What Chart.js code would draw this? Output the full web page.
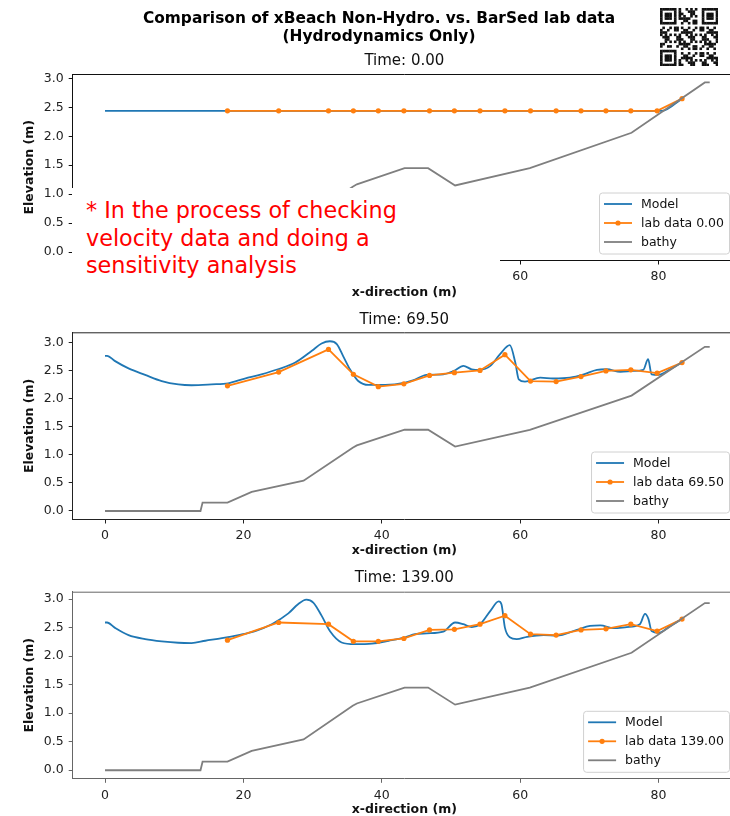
<!DOCTYPE html>
<html><head><meta charset="utf-8">
<script src="https://cdn.jsdelivr.net/npm/chart.js@4.4.0/dist/chart.umd.min.js"></script>
<style>
html,body{margin:0;padding:0;background:#fff;overflow:hidden;width:730px;height:816px;}
#wrap{position:relative;width:730px;height:816px;overflow:hidden;background:#fff;}
canvas.c{position:absolute;left:0;}
#maintitle{position:absolute;left:0;width:758px;top:9px;text-align:center;font:bold 15.4px "DejaVu Sans";line-height:18px;color:#000;}
#qr{position:absolute;left:660px;top:8px;}
#mask{position:absolute;left:72px;top:188px;width:428px;height:97px;background:#fff;}
#note{position:absolute;left:86px;top:197px;font:22.3px "DejaVu Sans";line-height:27.5px;color:#ff0000;white-space:nowrap;}
</style></head>
<body>
<div id="wrap">
  <canvas class="c" id="c1"></canvas>
  <canvas class="c" id="c2"></canvas>
  <canvas class="c" id="c3"></canvas>
  <div id="maintitle">Comparison of xBeach Non-Hydro. vs. BarSed lab data<br>(Hydrodynamics Only)</div>
  <canvas id="qr" width="58" height="58"></canvas>
  <div id="mask"></div>
  <div id="note">* In the process of checking<br>velocity data and doing a<br>sensitivity analysis</div>
</div>
<script>
// ---------------- data ----------------
const bathyX = [0, 13.8, 14.1, 17.7, 21.2, 28.7, 35.8, 36.4, 43.3, 46.7, 50.6, 61.4, 76.1, 86.7, 87.4];
const bathyY = [0, 0, 0.15, 0.15, 0.34, 0.54, 1.13, 1.17, 1.45, 1.45, 1.15, 1.45, 2.06, 2.93, 2.93];

const labX = [17.7, 25.1, 32.3, 35.9, 39.5, 43.2, 46.9, 50.5, 54.2, 57.8, 61.5, 65.2, 68.8, 72.4, 76.0, 79.8, 83.4];
const lab0 = [2.44, 2.44, 2.44, 2.44, 2.44, 2.44, 2.44, 2.44, 2.44, 2.44, 2.44, 2.44, 2.44, 2.44, 2.44, 2.44, 2.65];
const lab69 = [2.235, 2.48, 2.885, 2.44, 2.22, 2.27, 2.42, 2.47, 2.51, 2.79, 2.32, 2.31, 2.40, 2.50, 2.52, 2.46, 2.65];
const lab139 = [2.28, 2.59, 2.56, 2.26, 2.26, 2.31, 2.46, 2.47, 2.56, 2.71, 2.385, 2.37, 2.46, 2.48, 2.56, 2.44, 2.65];

const model0X = [0, 80.5, 83.4];
const model0Y = [2.44, 2.44, 2.65];

const model69X = [0, 0.3, 1.4, 3.4, 5.8, 8.2, 10.6, 12.5, 15.4, 17.8, 20.2, 22.6, 25.0, 27.5, 29.9, 31.3, 32.5, 33.5, 34.4, 35.4, 36.6, 38.1, 40.5, 43.4, 44.5, 46.5, 48.9, 50.4, 51.8, 53.0, 54.2, 55.7, 57.1, 58.5, 59.3, 59.8, 60.7, 62.9, 64.8, 67.2, 69.2, 71.1, 72.5, 74.5, 76.4, 77.8, 78.5, 79.0, 80.0, 81.7, 83.4];
const model69Y = [2.77, 2.77, 2.68, 2.545, 2.43, 2.32, 2.26, 2.245, 2.26, 2.28, 2.365, 2.44, 2.53, 2.65, 2.86, 2.99, 3.03, 2.98, 2.77, 2.53, 2.32, 2.25, 2.25, 2.29, 2.33, 2.43, 2.44, 2.50, 2.59, 2.53, 2.52, 2.59, 2.80, 2.96, 2.65, 2.35, 2.31, 2.38, 2.365, 2.38, 2.44, 2.52, 2.53, 2.485, 2.50, 2.52, 2.71, 2.44, 2.43, 2.53, 2.65];

const model139X = [0, 0.3, 1.4, 3.4, 5.8, 8.2, 10.6, 12.5, 14.5, 16.9, 19.3, 21.7, 24.1, 26.5, 27.9, 29.1, 30.1, 31.3, 32.5, 34.2, 36.1, 38.6, 41.0, 43.4, 44.8, 46.5, 48.9, 50.6, 51.8, 53.0, 54.2, 55.7, 56.9, 57.3, 57.8, 58.5, 59.5, 61.0, 63.4, 65.3, 68.2, 70.1, 71.6, 73.5, 75.4, 77.3, 78.05, 78.55, 79.0, 80.0, 81.7, 83.4];
const model139Y = [2.59, 2.59, 2.50, 2.37, 2.30, 2.26, 2.235, 2.23, 2.27, 2.315, 2.37, 2.44, 2.56, 2.75, 2.91, 2.99, 2.94, 2.71, 2.44, 2.24, 2.21, 2.22, 2.27, 2.33, 2.385, 2.40, 2.43, 2.59, 2.56, 2.51, 2.56, 2.795, 2.96, 2.91, 2.50, 2.33, 2.30, 2.34, 2.37, 2.36, 2.46, 2.53, 2.54, 2.49, 2.51, 2.56, 2.74, 2.65, 2.44, 2.41, 2.53, 2.65];

const times = ['0.00', '69.50', '139.00'];
const xTicksStep = 20;
const yTicksStep = 0.5;

// ---------------- helpers ----------------
const pts = (xs, ys) => xs.map((x, i) => ({x, y: ys[i]}));
Chart.defaults.font.family = '"DejaVu Sans"';
Chart.defaults.color = '#222';

const FONT_TICK = 12.5;
const FONT_TITLE = 15;
const CANVAS_W = 746;
const AREA_LEFT = 72.7, AREA_RIGHT = 736;

const frame = {
  id: 'frame',
  afterDatasetsDraw(chart, args, opts) {
    const {ctx, chartArea: a} = chart;
    ctx.save();
    ctx.strokeStyle = opts.color; ctx.lineWidth = 1;
    ctx.beginPath();
    ctx.moveTo(a.left, a.top + 0.5); ctx.lineTo(a.right, a.top + 0.5);
    ctx.moveTo(a.right - 0.5, a.top); ctx.lineTo(a.right - 0.5, a.bottom);
    ctx.stroke();
    ctx.restore();
  }
};

const insideLegend = {
  id: 'insideLegend',
  afterDraw(chart) {
    const {ctx, chartArea: a} = chart;
    const items = chart.data.datasets.slice().sort((p, q) => p.legendIndex - q.legendIndex);
    ctx.save();
    ctx.font = FONT_TICK + 'px "DejaVu Sans"';
    const maxW = Math.max(...items.map(d => ctx.measureText(d.label).width));
    const pad = 5, handle = 28, gap = 9, rowH = 19, h = 61;
    const w = pad + handle + gap + maxW + pad;
    const right = a.right - 7, bottom = a.bottom - 7;
    const left = right - w, top = bottom - h;
    ctx.beginPath();
    if (ctx.roundRect) ctx.roundRect(left + 0.5, top + 0.5, w, h, 3); else ctx.rect(left + 0.5, top + 0.5, w, h);
    ctx.fillStyle = 'rgba(255,255,255,0.85)';
    ctx.fill();
    ctx.strokeStyle = '#d0d0d0'; ctx.lineWidth = 1;
    ctx.stroke();
    items.forEach((d, i) => {
      const y = top + 11.5 + i * rowH;
      ctx.strokeStyle = d.borderColor; ctx.lineWidth = d.borderWidth;
      ctx.beginPath(); ctx.moveTo(left + pad, y); ctx.lineTo(left + pad + handle, y); ctx.stroke();
      if (d.pointRadius > 0) {
        ctx.fillStyle = d.borderColor;
        ctx.beginPath(); ctx.arc(left + pad + handle / 2, y, d.pointRadius, 0, Math.PI * 2); ctx.fill();
      }
      ctx.fillStyle = '#111'; ctx.textBaseline = 'middle'; ctx.textAlign = 'left';
      ctx.fillText(d.label, left + pad + handle + gap, y + 0.5);
    });
    ctx.restore();
  }
};

const panels = [
  {id: 'c1', top: 40, titleY: 61, areaTop: 74, areaBottom: 260, xTitleY: 292, ymin: -0.146, ymax: 3.076,
   mx: model0X, my: model0Y, lab: lab0, t: times[0], spine: '#111'},
  {id: 'c2', top: 300, titleY: 320, areaTop: 332.3, areaBottom: 519, xTitleY: 550, ymin: -0.152, ymax: 3.19,
   mx: model69X, my: model69Y, lab: lab69, t: times[1], spine: '#222'},
  {id: 'c3', top: 558, titleY: 578.3, areaTop: 591.7, areaBottom: 778.3, xTitleY: 809, ymin: -0.15, ymax: 3.13,
   mx: model139X, my: model139Y, lab: lab139, t: times[2], spine: '#666'},
];

panels.forEach(p => {
  const xAxisH = p.xTitleY - p.areaBottom + 7.5;
  const H = Math.ceil(p.areaBottom + xAxisH - p.top);
  const cv = document.getElementById(p.id);
  cv.width = CANVAS_W; cv.height = H;
  cv.style.top = p.top + 'px';
  const titleLH = FONT_TITLE * 1.2;
  const tPadTop = p.titleY - p.top - titleLH / 2;
  const tPadBot = p.areaTop - p.top - tPadTop - titleLH;
  new Chart(cv, {
    type: 'line',
    data: {
      datasets: [
        {label: 'Model', data: pts(p.mx, p.my), borderColor: '#1f77b4', backgroundColor: '#1f77b4',
         borderWidth: 1.8, pointRadius: 0, cubicInterpolationMode: 'monotone', order: 3, legendIndex: 0},
        {label: 'lab data ' + p.t, data: pts(labX, p.lab), borderColor: '#ff7f0e', backgroundColor: '#ff7f0e',
         borderWidth: 1.8, pointRadius: 2.6, pointBorderWidth: 0, pointBackgroundColor: '#ff7f0e', tension: 0, order: 2, legendIndex: 1},
        {label: 'bathy', data: pts(bathyX, bathyY), borderColor: '#7f7f7f', backgroundColor: '#7f7f7f',
         borderWidth: 1.8, pointRadius: 0, tension: 0, order: 1, legendIndex: 2},
      ]
    },
    options: {
      responsive: false, animation: false, devicePixelRatio: 1,
      layout: {padding: {left: 0, right: CANVAS_W - AREA_RIGHT, top: 0, bottom: 0}},
      plugins: {
        legend: {display: false}, tooltip: {enabled: false},
        title: {display: true, text: 'Time: ' + p.t, fullSize: false, color: '#111',
                font: {size: FONT_TITLE, weight: 'normal'}, padding: {top: tPadTop, bottom: tPadBot}},
        frame: {color: p.spine}
      },
      scales: {
        x: {type: 'linear', min: -4.67, max: 91.2,
            afterFit: s => { s.height = xAxisH; },
            ticks: {stepSize: xTicksStep, includeBounds: false, maxRotation: 0, autoSkip: false, padding: 5,
                    font: {size: FONT_TICK}, color: '#222', callback: v => String(v)},
            grid: {drawOnChartArea: false, drawTicks: true, tickLength: 4, tickColor: p.spine},
            border: {display: true, color: p.spine, width: 1},
            title: {display: true, text: 'x-direction (m)', color: '#111', font: {size: 12.5, weight: 'bold'}, padding: {top: 0, bottom: 0}}},
        y: {type: 'linear', min: p.ymin, max: p.ymax,
            afterFit: s => { s.width = AREA_LEFT; },
            ticks: {stepSize: yTicksStep, includeBounds: false, padding: 5, font: {size: FONT_TICK}, color: '#222',
                    callback: v => Number(v).toFixed(1)},
            grid: {drawOnChartArea: false, drawTicks: true, tickLength: 4, tickColor: p.spine},
            border: {display: true, color: p.spine, width: 1},
            title: {display: true, text: 'Elevation (m)', color: '#111', font: {size: 12.5, weight: 'bold'}, padding: {top: 22.5, bottom: 0}}}
      }
    },
    plugins: [frame, insideLegend]
  });
});

// ---------------- QR-like decoration ----------------
(function () {
  const c = document.getElementById('qr').getContext('2d');
  const n = 25, m = 58 / n;
  c.fillStyle = '#fff'; c.fillRect(0, 0, 58, 58);
  c.fillStyle = '#111';
  const finder = (r0, c0) => {
    for (let r = 0; r < 7; r++) for (let k = 0; k < 7; k++) {
      const edge = r === 0 || r === 6 || k === 0 || k === 6;
      const core = r >= 2 && r <= 4 && k >= 2 && k <= 4;
      if (edge || core) c.fillRect((c0 + k) * m, (r0 + r) * m, m + 0.3, m + 0.3);
    }
  };
  finder(0, 0); finder(0, n - 7); finder(n - 7, 0);
  for (let r = 0; r < n; r++) for (let k = 0; k < n; k++) {
    const inF = (r < 8 && k < 8) || (r < 8 && k >= n - 8) || (r >= n - 8 && k < 8);
    if (inF) continue;
    if (((r * 31 + k * 17 + r * k * 7) % 11) < 5) c.fillRect(k * m, r * m, m + 0.3, m + 0.3);
  }
})();
</script>
</body></html>
